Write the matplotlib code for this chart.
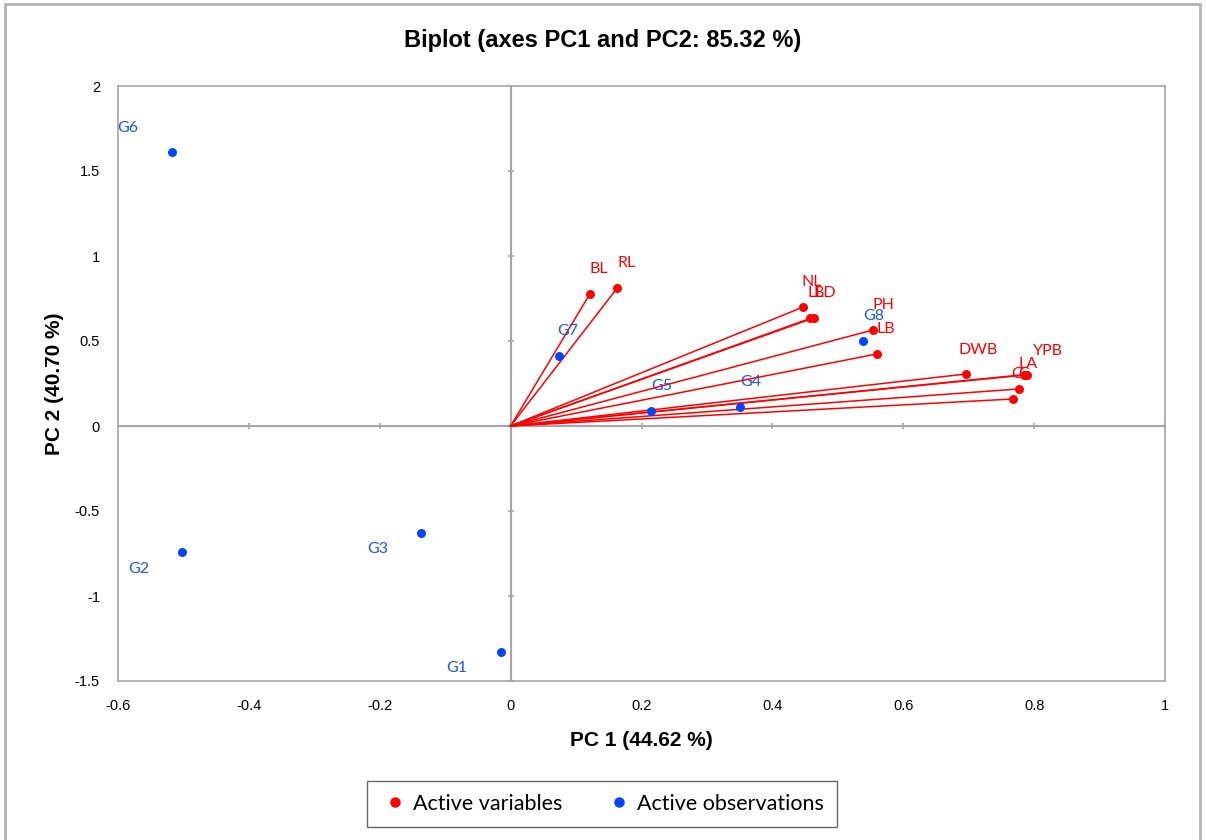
import matplotlib
matplotlib.use("Agg")
import matplotlib.pyplot as plt
from matplotlib.patches import Rectangle
from matplotlib.lines import Line2D

# Variables (loadings)
var_names = ["BL", "RL", "NL", "LL", "BD", "PH", "LB", "DWB", "YPB", "LA", "C", "C"]
var_pc1 = [0.121, 0.163, 0.447, 0.458, 0.463, 0.554, 0.560, 0.696, 0.789, 0.785, 0.777, 0.768]
var_pc2 = [0.776, 0.812, 0.700, 0.633, 0.635, 0.565, 0.424, 0.306, 0.301, 0.302, 0.218, 0.159]

# Observations (scores)
obs_names = ["G1", "G2", "G3", "G4", "G5", "G6", "G7", "G8"]
obs_pc1 = [-0.015, -0.502, -0.137, 0.351, 0.215, -0.518, 0.074, 0.539]
obs_pc2 = [-1.330, -0.741, -0.629, 0.112, 0.088, 1.612, 0.410, 0.500]

x_ticks = [-0.6, -0.4, -0.2, 0, 0.2, 0.4, 0.6, 0.8, 1]
y_ticks = [-1.5, -1, -0.5, 0, 0.5, 1, 1.5, 2]

title = "Biplot (axes PC1 and PC2: 85.32 %)"
xlabel = "PC 1 (44.62 %)"
ylabel = "PC 2 (40.70 %)"

# label offsets in pixels (style only)
var_off = {0: (9, 25), 1: (9, 25), 2: (9, 25), 3: (5, 25), 4: (11, 25), 5: (10, 25),
           6: (9, 25), 7: (12, 24), 8: (21, 24), 9: (4, 11), 10: (-2, 15), 11: (10, 25)}
obs_off = {0: (-44, -16), 1: (-43, -17), 2: (-43, -16), 3: (11, 25), 4: (10, 25),
           5: (-44, 24), 6: (9, 25), 7: (10, 25)}

RED = "#ff0000"
BLUE = "#0046ff"
LBLUE = "#1f55e8"
GRAY = "#a6a6a6"
LABEL_FONT = ["Lato", "DejaVu Sans"]
AX_FONT = ["Liberation Sans", "DejaVu Sans"]

fig = plt.figure(figsize=(12.06, 8.4), dpi=100)
ax = fig.add_axes([118/1206, 1-681/840, (1165-118)/1206, (681-86)/840])
ax.set_xlim(-0.6, 1)
ax.set_ylim(-1.5, 2)

ax.axhline(0, color=GRAY, lw=1.5, zorder=1)
ax.axvline(0, color=GRAY, lw=1.5, zorder=1)
# small ticks on the zero lines
ax.plot([0]*len(y_ticks), y_ticks, linestyle="none", marker="_", ms=5, color=GRAY, mew=1.2, zorder=1)
ax.plot(x_ticks, [0]*len(x_ticks), linestyle="none", marker="|", ms=5, color=GRAY, mew=1.2, zorder=1)

for x, y in zip(var_pc1, var_pc2):
    ax.plot([0, x], [0, y], color=RED, lw=1.1, zorder=2)
ax.scatter(var_pc1, var_pc2, s=42, color=RED, zorder=4, linewidths=0)
ax.scatter(obs_pc1, obs_pc2, s=42, color=BLUE, zorder=4, linewidths=0)

for i, (n, x, y) in enumerate(zip(var_names, var_pc1, var_pc2)):
    dx, dy = var_off[i]
    ax.annotate(n, (x, y), xytext=(dx*0.72, dy*0.72), textcoords="offset points",
                ha="center", va="center", color=RED, fontsize=11.5, family=LABEL_FONT, zorder=3)
for i, (n, x, y) in enumerate(zip(obs_names, obs_pc1, obs_pc2)):
    dx, dy = obs_off[i]
    ax.annotate(n, (x, y), xytext=(dx*0.72, dy*0.72), textcoords="offset points",
                ha="center", va="center", color=LBLUE, fontsize=11.5, family=LABEL_FONT, zorder=3)

ax.set_xticks(x_ticks)
ax.set_yticks(y_ticks)
ax.set_xticklabels([f"{t:g}" for t in x_ticks], family=AX_FONT, fontsize=10.5)
ax.set_yticklabels([f"{t:g}" for t in y_ticks], family=AX_FONT, fontsize=10.5)
ax.tick_params(length=0, pad=13)
for s in ax.spines.values():
    s.set_color(GRAY)
    s.set_linewidth(1.2)

ax.set_xlabel(xlabel, fontsize=15, fontweight="bold", family=AX_FONT, labelpad=13)
ax.set_ylabel(ylabel, fontsize=15, fontweight="bold", family=AX_FONT, labelpad=8)
fig.text(603/1206, 1-41/840, title, ha="center", va="center", fontsize=17,
         fontweight="bold", family=AX_FONT)

handles = [Line2D([], [], linestyle="none", marker="o", color=RED, ms=6.5, label="Active variables"),
           Line2D([], [], linestyle="none", marker="o", color=BLUE, ms=6.5, label="Active observations")]
leg = fig.legend(handles=handles, loc="center", bbox_to_anchor=(602/1206, 1-804/840), ncol=2,
                 frameon=True, fancybox=False, edgecolor="#404040", handletextpad=0.15,
                 columnspacing=1.9, borderpad=0.6, handlelength=1.4,
                 prop={"family": LABEL_FONT, "size": 15.5})
leg.get_frame().set_linewidth(1.0)

fig.patches.append(Rectangle((5/1206, -0.02), (1200-5)/1206, 1.02-4/840, transform=fig.transFigure,
                             fill=False, edgecolor="#b4b4b4", lw=2))

fig.savefig("out.png", dpi=100, facecolor="white")
